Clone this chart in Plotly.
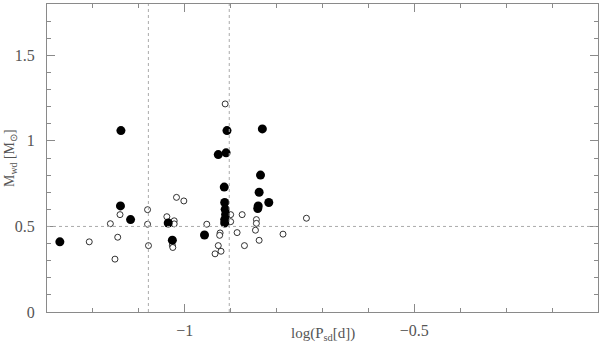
import numpy as np
import plotly.graph_objects as go

# ─── Data ────────────────────────────────────────────────────────────────────

# filled circles
filled_logp = [-1.272, -1.139, -1.140, -1.118, -1.036, -1.027, -0.957,
               -0.914, -0.913, -0.912, -0.911, -0.913, -0.913,
               -0.908, -0.927, -0.910, -0.831, -0.835, -0.838,
               -0.817, -0.840, -0.841]
filled_mwd = [0.41, 1.06, 0.62, 0.54, 0.52, 0.42, 0.45,
              0.73, 0.64, 0.60, 0.57, 0.54, 0.52,
              1.06, 0.92, 0.93, 1.07, 0.80, 0.70,
              0.64, 0.62, 0.605]

# open circles
open_logp = [-1.208, -1.162, -1.141, -1.146, -1.152, -1.081, -1.081, -1.079,
             -1.018, -1.002, -1.039, -1.023, -1.023, -1.027, -1.026,
             -0.952, -0.923, -0.924, -0.927, -0.921, -0.934,
             -0.900, -0.900, -0.886, -0.875, -0.844, -0.844, -0.846,
             -0.870, -0.838, -0.786, -0.735, -0.912]
open_mwd = [0.41, 0.516, 0.569, 0.437, 0.309, 0.598, 0.513, 0.388,
            0.670, 0.649, 0.557, 0.533, 0.515, 0.390, 0.377,
            0.513, 0.462, 0.448, 0.388, 0.355, 0.340,
            0.569, 0.528, 0.464, 0.569, 0.540, 0.518, 0.478,
            0.388, 0.419, 0.455, 0.548, 1.216]

# reference lines: period gap edges (2 h and 3 h) and 0.5 Msun
gap_lines = [np.log10(2 / 24), np.log10(3 / 24)]
mass_line = 0.5

x_ticks = [-1, -0.5]
x_ticklabels = ["\u22121", "\u22120.5"]
y_ticks = [0, 0.5, 1, 1.5]
y_ticklabels = ["0", "0.5", "1", "1.5"]

# ─── Style ───────────────────────────────────────────────────────────────────

_AXIS = "#8a8a8a"
_TEXT = "#555555"
_FONT = "Liberation Serif"

fig = go.Figure()

for xv in gap_lines:
    fig.add_vline(x=xv, line=dict(color="#aaaaaa", width=1, dash="dot"))
fig.add_hline(y=mass_line, line=dict(color="#aaaaaa", width=1, dash="dot"))

fig.add_trace(go.Scatter(
    x=open_logp, y=open_mwd,
    mode="markers",
    marker=dict(size=6, color="white", line=dict(color="black", width=0.8)),
    showlegend=False,
))

fig.add_trace(go.Scatter(
    x=filled_logp, y=filled_mwd,
    mode="markers",
    marker=dict(size=9, color="black", line=dict(width=0)),
    showlegend=False,
))

_axis_common = dict(
    showgrid=False, zeroline=False,
    showline=True, linecolor=_AXIS, linewidth=1, mirror="ticks",
    ticks="inside", ticklen=8, tickcolor=_AXIS, tickwidth=1,
    tickfont=dict(family=_FONT, size=16, color=_TEXT),
)

fig.update_xaxes(
    range=[-1.3, -0.1],
    tickvals=x_ticks, ticktext=x_ticklabels,
    ticklabelstandoff=4,
    minor=dict(dtick=0.1, tick0=0, ticks="inside", ticklen=4,
               tickcolor=_AXIS, showgrid=False),
    **_axis_common,
)
fig.update_yaxes(
    range=[0, 1.8],
    tickvals=y_ticks, ticktext=y_ticklabels,
    ticklabelstandoff=8,
    minor=dict(dtick=0.1, tick0=0, ticks="inside", ticklen=4,
               tickcolor=_AXIS, showgrid=False),
    **_axis_common,
)

fig.add_annotation(
    text="log(P<sub>sd</sub>[d])",
    xref="paper", yref="paper", x=0.5, y=0, yshift=-22,
    xanchor="center", yanchor="middle", showarrow=False,
    font=dict(family=_FONT, size=15, color=_TEXT),
)
fig.add_annotation(
    text="M<sub>wd</sub> [M<sub>\u2299</sub>]",
    xref="paper", yref="paper", x=0, xshift=-37, y=0.5,
    xanchor="center", yanchor="middle", textangle=-90, showarrow=False,
    font=dict(family=_FONT, size=14, color=_TEXT),
)

fig.update_layout(
    width=600, height=348,
    margin=dict(l=47, r=2, t=4, b=36),
    paper_bgcolor="white", plot_bgcolor="white",
    showlegend=False,
)

# drop the page's default body margin so the figure sits at the top-left
fig.write_html(
    "out.html",
    config={"displayModeBar": False},
    post_script="document.body.style.margin='0';",
)
